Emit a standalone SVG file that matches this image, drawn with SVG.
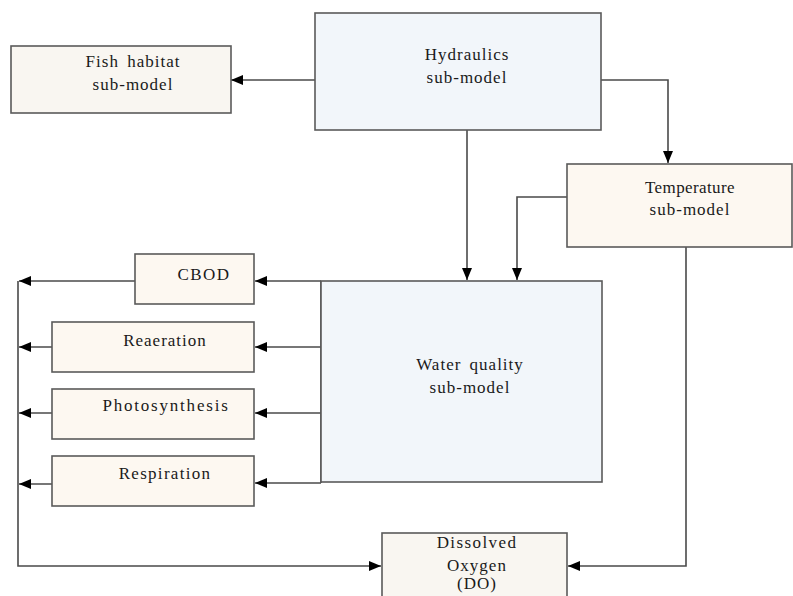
<svg xmlns="http://www.w3.org/2000/svg" width="793" height="596" viewBox="0 0 793 596" font-family="'Liberation Serif', 'DejaVu Serif', serif">
<style>
.box{stroke:#5a5a5a;stroke-width:1.6}
.beige{fill:#fdf8f1}
.grey{fill:#f9f6f1}
.blue{fill:#f2f6fa}
text{font-family:'Liberation Serif','DejaVu Serif',serif;font-size:17px;fill:#1a1a1a;text-anchor:middle;letter-spacing:1px;word-spacing:3px}
.c{fill:none;stroke:#4a4a4a;stroke-width:1.6}
</style>
<defs>
<marker id="ah" markerUnits="userSpaceOnUse" markerWidth="12" markerHeight="10" refX="12" refY="5" orient="auto">
<path d="M0,0 L12,5 L0,10 z" fill="#000"/>
</marker>
</defs>
<rect width="793" height="596" fill="#fff"/>
<g id="connectors">
<path class="c" d="M315,80 H231" marker-end="url(#ah)"/>
<path class="c" d="M601,80 H668 V163" marker-end="url(#ah)"/>
<path class="c" d="M467,130 V280" marker-end="url(#ah)"/>
<path class="c" d="M567,197 H517 V280" marker-end="url(#ah)"/>
<path class="c" d="M321,281 H255" marker-end="url(#ah)"/>
<path class="c" d="M321,347 H255" marker-end="url(#ah)"/>
<path class="c" d="M321,413 H255" marker-end="url(#ah)"/>
<path class="c" d="M321,483 H255" marker-end="url(#ah)"/>
<path class="c" d="M321,281 V483"/>
<path class="c" d="M135,281 H19" marker-end="url(#ah)"/>
<path class="c" d="M52,347 H19" marker-end="url(#ah)"/>
<path class="c" d="M52,413 H19" marker-end="url(#ah)"/>
<path class="c" d="M52,484 H19" marker-end="url(#ah)"/>
<path class="c" d="M18,281 V566 H381" marker-end="url(#ah)"/>
<path class="c" d="M686,247 V566 H568" marker-end="url(#ah)"/>
</g>
<g id="fish">
<rect class="box grey" x="11" y="46" width="220" height="67"/>
<text x="133" y="67">Fish habitat</text>
<text x="133" y="90">sub-model</text>
</g>
<g id="hydraulics">
<rect class="box blue" x="315" y="13" width="286" height="117"/>
<text x="467" y="60">Hydraulics</text>
<text x="467" y="83">sub-model</text>
</g>
<g id="temperature">
<rect class="box beige" x="567" y="164" width="225" height="83"/>
<text x="690" y="193" style="letter-spacing:0.4px">Temperature</text>
<text x="690" y="215">sub-model</text>
</g>
<g id="waterquality">
<rect class="box blue" x="321" y="281" width="281" height="201"/>
<text x="470" y="370">Water quality</text>
<text x="470" y="393">sub-model</text>
</g>
<g id="cbod">
<rect class="box beige" x="135" y="254" width="119" height="50"/>
<text x="204" y="280" style="letter-spacing:1.5px">CBOD</text>
</g>
<g id="reaeration">
<rect class="box beige" x="52" y="322" width="202" height="50"/>
<text x="165" y="346">Reaeration</text>
</g>
<g id="photosynthesis">
<rect class="box beige" x="52" y="389" width="202" height="50"/>
<text x="166" y="411" style="letter-spacing:1.8px">Photosynthesis</text>
</g>
<g id="respiration">
<rect class="box beige" x="52" y="456" width="202" height="50"/>
<text x="165" y="479" style="letter-spacing:1.3px">Respiration</text>
</g>
<g id="do">
<rect class="box grey" x="382" y="533" width="185" height="70"/>
<text x="477" y="548" style="letter-spacing:1.4px">Dissolved</text>
<text x="477" y="571">Oxygen</text>
<text x="477" y="589">(DO)</text>
</g>
</svg>
